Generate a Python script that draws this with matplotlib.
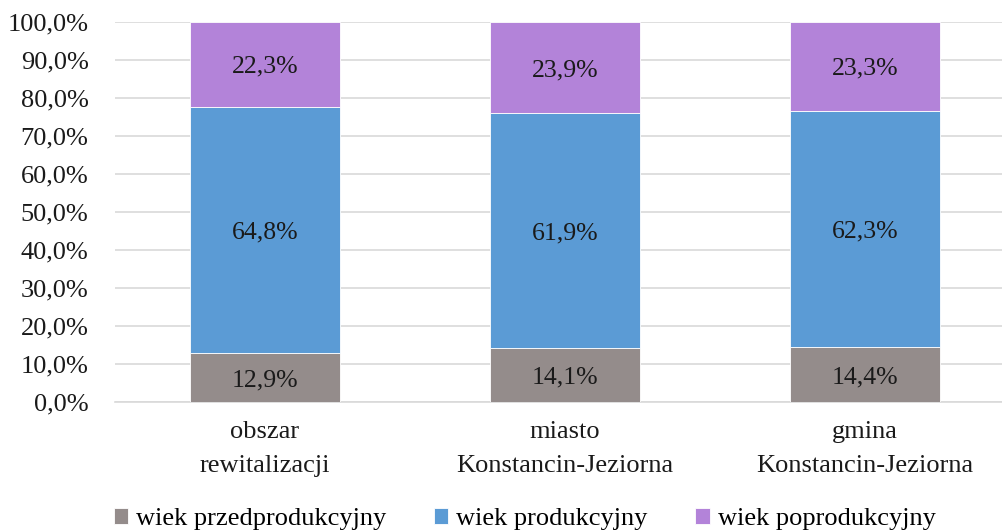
import matplotlib.pyplot as plt
import numpy as np

plt.rcParams['font.family'] = ['Liberation Serif', 'DejaVu Serif']

categories = ['obszar\nrewitalizacji', 'miasto\nKonstancin-Jeziorna', 'gmina\nKonstancin-Jeziorna']
series = ['wiek przedprodukcyjny', 'wiek produkcyjny', 'wiek poprodukcyjny']
przed = [12.9, 14.1, 14.4]
prod = [64.8, 61.9, 62.3]
poprod = [22.3, 23.9, 23.3]
colors = ['#948C8B', '#5B9BD5', '#B383D9']

fig = plt.figure(figsize=(10.03, 5.30), dpi=100)
ax = fig.add_axes([115 / 1003, 1 - 402 / 530, 888 / 1003, 380 / 530])

x = np.arange(len(categories))
bottom = np.zeros(len(categories))
for vals, name, col in zip([przed, prod, poprod], series, colors):
    ax.bar(x, vals, width=0.5, bottom=bottom, color=col, label=name,
           edgecolor='white', linewidth=0.6, zorder=3)
    for xi, b, v in zip(x, bottom, vals):
        ax.text(xi, b + v / 2, f'{v:.1f}%'.replace('.', ','), ha='center',
                va='center_baseline', fontsize=18.5, color='#1a1a1a', zorder=4)
    bottom += np.array(vals)

ax.set_xlim(-0.5, 2.46)
ax.set_ylim(0, 100)
ax.set_yticks(range(0, 101, 10))
ax.set_yticklabels([f'{v},0%' for v in range(0, 101, 10)], fontsize=19)
ax.set_xticks(x)
ax.set_xticklabels(categories, fontsize=19, linespacing=1.7)
ax.grid(axis='y', color='#D9D9D9', linewidth=1.2, zorder=0)
for s in ['top', 'right', 'left']:
    ax.spines[s].set_visible(False)
ax.spines['bottom'].set_color('#D9D9D9')
ax.spines['bottom'].set_linewidth(1.2)
ax.tick_params(axis='y', length=0, pad=19, colors='#1a1a1a')
ax.tick_params(axis='x', length=0, pad=14, colors='#1a1a1a')

fig.legend(loc='lower center', bbox_to_anchor=(0.523, -0.045), ncol=3, frameon=False,
           fontsize=19, handlelength=0.55, handleheight=0.55, handletextpad=0.3,
           columnspacing=1.8)

fig.savefig('out.png', dpi=100)
